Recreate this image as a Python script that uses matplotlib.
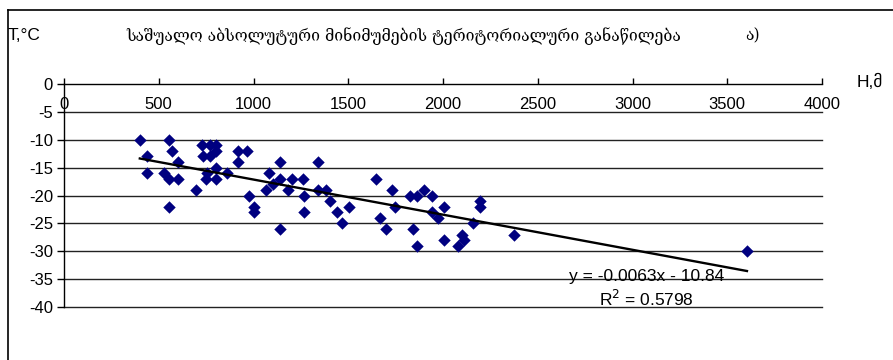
import matplotlib
matplotlib.use('Agg')
import matplotlib.pyplot as plt
from matplotlib.lines import Line2D
import numpy as np

# heights (m) and mean absolute minimum temperatures (C)
heights = [400, 440, 440, 528, 555, 568, 554, 554, 604, 604,
           697, 728, 771, 802, 734, 771, 802, 757, 802, 750,
           802, 859, 920, 964, 920, 978, 1003, 1003, 1065, 1080,
           1101, 1140, 1140, 1140, 1184, 1205, 1260, 1267, 1267, 1339,
           1339, 1381, 1404, 1443, 1466, 1506, 1645, 1668, 1700, 1733,
           1747, 1826, 1862, 1844, 1862, 1902, 1943, 1943, 1976, 2004,
           2004, 2078, 2101, 2110, 2157, 2196, 2196, 2375, 3604]
tmin = [-10, -13, -16, -16, -10, -12, -17, -22, -14, -17,
        -19, -11, -11, -11, -13, -13, -12, -16, -15, -17,
        -17, -16, -12, -12, -14, -20, -22, -23, -19, -16,
        -18, -14, -17, -26, -19, -17, -17, -20, -23, -14,
        -19, -19, -21, -23, -25, -22, -17, -24, -26, -19,
        -22, -20, -20, -26, -29, -19, -20, -23, -24, -22,
        -28, -29, -27, -28, -25, -21, -22, -27, -30]

slope = -0.0063
intercept = -10.84
r2 = 0.5798

xticks = [0, 500, 1000, 1500, 2000, 2500, 3000, 3500, 4000]
yticks = [0, -5, -10, -15, -20, -25, -30, -35, -40]

title = 'საშუალო აბსოლუტური მინიმუმების ტერიტორიალური განაწილება'

fig = plt.figure(figsize=(8.93, 3.6), dpi=100)
ax = fig.add_axes([64 / 893, 1 - 307 / 360, 758 / 893, 223 / 360])
ax.set_xlim(0, 4000)
ax.set_ylim(-40, 0)

sans = ['Liberation Sans', 'DejaVu Sans']
serif = ['DejaVu Serif', 'DejaVu Sans']

# horizontal gridlines
for v in yticks[1:]:
    ax.axhline(v, color='#222222', lw=1.0, zorder=1, clip_on=False)

ax.scatter(heights, tmin, marker='D', s=40, color='#000080', zorder=3, linewidths=0)

xs = np.array([min(heights), max(heights)])
ax.plot(xs, slope * xs + intercept, color='black', lw=1.7, zorder=4)

for s in ['right', 'bottom']:
    ax.spines[s].set_visible(False)
ax.spines['left'].set_linewidth(1.0)
ax.spines['top'].set_linewidth(1.0)

ax.set_xticks(xticks)
ax.set_xticklabels([str(t) for t in xticks])
ax.set_yticks(yticks)
ax.set_yticklabels([str(t) for t in yticks])
ax.tick_params(axis='x', top=True, bottom=False, labeltop=True, labelbottom=False,
               direction='out', length=4, width=1, pad=-24, labelsize=12)
ax.tick_params(axis='y', direction='out', length=5, width=1, pad=3, labelsize=12)
for lab in ax.get_xticklabels() + ax.get_yticklabels():
    lab.set_family(sans)

ax.text(3072, -34.5, 'y = -0.0063x - 10.84', ha='center', va='center',
        fontsize=12.5, family=sans, zorder=5)
ax.text(3072, -38.6, 'R$^2$ = %.4f' % r2, ha='center', va='center',
        fontsize=12.5, family=sans, zorder=5)

fig.text(8 / 893, 1 - 35 / 360, 'T,°C', ha='left', va='center', fontsize=12.5, family=sans)
fig.text(857 / 893, 1 - 82 / 360, 'H,მ', ha='left', va='center', fontsize=12.5, family=sans)
fig.text(126 / 893, 1 - 36 / 360, title, ha='left', va='center', fontsize=11.3, family=serif)
fig.text(745 / 893, 1 - 36 / 360, 'ა)', ha='left', va='center', fontsize=11.3, family=serif)

# outer chart frame (top and left edges visible)
fig.add_artist(Line2D([8 / 893, 1], [1 - 10 / 360] * 2, color='black', lw=1.2, transform=fig.transFigure))
fig.add_artist(Line2D([8 / 893] * 2, [0, 1 - 10 / 360], color='black', lw=1.2, transform=fig.transFigure))

fig.savefig('out.png', dpi=100)
plt.close(fig)
